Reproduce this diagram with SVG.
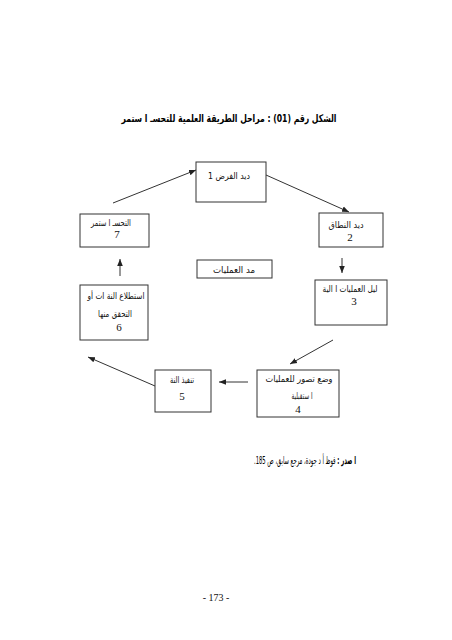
<svg xmlns="http://www.w3.org/2000/svg" width="452" height="640" viewBox="0 0 452 640">
<style>
.box{fill:#fff;stroke:#333;stroke-width:1}
.ar{font-family:"DejaVu Sans",sans-serif;font-size:9px;fill:#111;text-anchor:middle}
.num{font-family:"Liberation Serif",serif;font-size:11px;fill:#111;text-anchor:middle}
.ttl{font-family:"DejaVu Sans",sans-serif;font-size:10.5px;font-weight:bold;fill:#000;text-anchor:middle}
.src{font-family:"DejaVu Sans",sans-serif;font-size:10.5px;fill:#000;text-anchor:middle}
.cn{stroke:#333;stroke-width:1;fill:none;marker-end:url(#ah)}
</style>
<defs>
<marker id="ah" viewBox="0 0 10 10" refX="10" refY="5" markerWidth="7" markerHeight="7" orient="auto" markerUnits="userSpaceOnUse">
<path d="M0,1 L10,5 L0,9 z" fill="#222"/>
</marker>
</defs>
<rect width="452" height="640" fill="#fff"/>
<text class="ttl" x="229" y="122" direction="rtl" textLength="215" lengthAdjust="spacingAndGlyphs">الشكل رقم (01) : مراحل الطريقة العلمية للتحسـ  ا ستمر</text>
<g id="connectors">
<line class="cn" x1="113" y1="203" x2="196" y2="170"/>
<line class="cn" x1="266" y1="175" x2="349" y2="212"/>
<line class="cn" x1="342" y1="258" x2="342" y2="273"/>
<line class="cn" x1="333" y1="340" x2="290" y2="364"/>
<line class="cn" x1="248" y1="382" x2="219" y2="382"/>
<line class="cn" x1="155" y1="386" x2="88" y2="357"/>
<line class="cn" x1="120" y1="276" x2="120" y2="259"/>
</g>
<g id="n1"><rect class="box" x="196" y="162" width="70" height="40"/><text class="ar" x="229" y="179" direction="rtl" textLength="42" lengthAdjust="spacingAndGlyphs">ديد الفرض 1</text></g>
<g id="n7"><rect class="box" x="80" y="214" width="69" height="33"/><text class="ar" x="111" y="226" direction="rtl" textLength="40" lengthAdjust="spacingAndGlyphs">التحسـ  ا ستمر</text><text class="num" x="117" y="238">7</text></g>
<g id="n2"><rect class="box" x="319" y="213" width="64" height="34"/><text class="ar" x="346" y="228" direction="rtl" textLength="35" lengthAdjust="spacingAndGlyphs">ديد النطاق</text><text class="num" x="350" y="241">2</text></g>
<g id="nmid"><rect class="box" x="197" y="260" width="75" height="18"/><text class="ar" x="234" y="273" direction="rtl" textLength="42" lengthAdjust="spacingAndGlyphs">مد   العمليات</text></g>
<g id="n3"><rect class="box" x="315" y="280" width="72" height="45"/><text class="ar" x="350" y="292" direction="rtl" textLength="55" lengthAdjust="spacingAndGlyphs">ليل العمليات ا الية</text><text class="num" x="354" y="305">3</text></g>
<g id="n6"><rect class="box" x="80" y="285" width="68" height="55"/><text class="ar" x="116" y="299" direction="rtl" textLength="57" lengthAdjust="spacingAndGlyphs">استطلاع النة ات أو</text><text class="ar" x="115" y="317" direction="rtl" textLength="34" lengthAdjust="spacingAndGlyphs">التحقق منها</text><text class="num" x="119" y="331">6</text></g>
<g id="n5"><rect class="box" x="155" y="370" width="56" height="42"/><text class="ar" x="182" y="383" direction="rtl" textLength="24" lengthAdjust="spacingAndGlyphs">تنفيذ النة</text><text class="num" x="182" y="400">5</text></g>
<g id="n4"><rect class="box" x="257" y="370" width="82" height="47"/><text class="ar" x="299" y="382" direction="rtl" textLength="67" lengthAdjust="spacingAndGlyphs">وضع تصور للعمليات</text><text class="ar" x="302" y="399" direction="rtl" textLength="21" lengthAdjust="spacingAndGlyphs">ا ستقبلية</text><text class="num" x="298" y="413">4</text></g>
<text class="src" x="305" y="464" direction="rtl" textLength="102" lengthAdjust="spacingAndGlyphs"><tspan font-weight="bold">ا صدر :</tspan>  فوظ أ د جودة، مرجع سابق، ص 185.</text>
<text class="num" x="216" y="601" style="font-size:10px">- 173 -</text>
</svg>
